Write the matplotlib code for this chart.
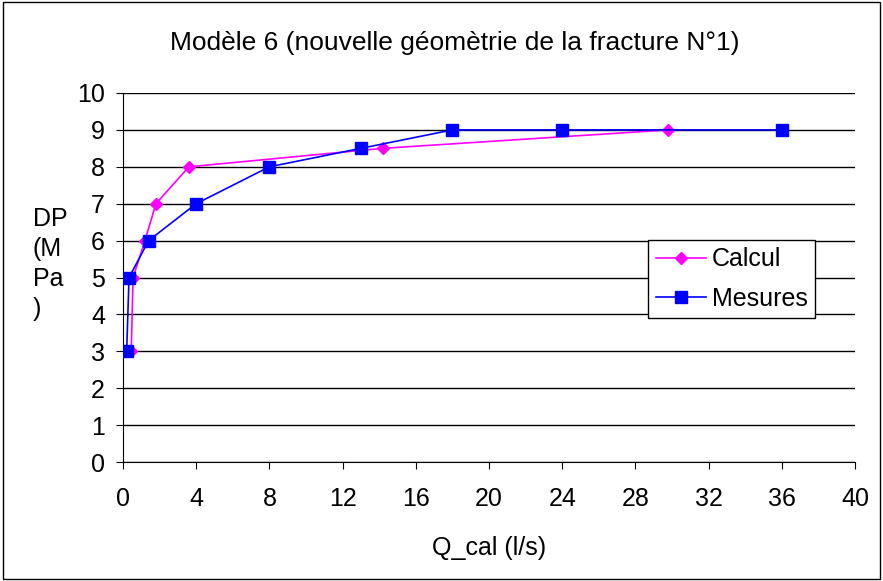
import matplotlib.pyplot as plt
from matplotlib.patches import Rectangle

plt.rcParams['font.family'] = ['Liberation Sans', 'DejaVu Sans']

# Calcul (modèle 6)
q_calcul = [0.45, 0.55, 1.2, 1.8, 3.6, 14.2, 29.8]
dp_calcul = [3, 5, 6, 7, 8, 8.5, 9]

# Mesures
q_mesures = [0.2, 0.33, 1.4, 4.0, 8.0, 13.0, 18.0, 24.0, 36.0]
dp_mesures = [3, 5, 6, 7, 8, 8.5, 9, 9, 9]

x_ticks = [0, 4, 8, 12, 16, 20, 24, 28, 32, 36, 40]

fig = plt.figure(figsize=(8.83, 5.81), dpi=100)
ax = fig.add_axes([123 / 883, 1 - 462 / 581, 732 / 883, 369 / 581])

ax.plot(q_calcul, dp_calcul, color='#ff00ff', marker='D', markersize=6.5,
        linewidth=1.2, label='Calcul', zorder=3)
ax.plot(q_mesures, dp_mesures, color='#0000ff', marker='s', markersize=9,
        linewidth=1.2, label='Mesures', zorder=4)

ax.set_xlim(0, 40)
ax.set_ylim(0, 10)
ax.set_xticks(x_ticks)
ax.set_yticks(range(0, 11))
ax.yaxis.grid(True, color='black', linewidth=1)
ax.set_axisbelow(True)
ax.spines['top'].set_visible(False)
ax.spines['right'].set_visible(False)
ax.tick_params(labelsize=18, direction='out', length=5, colors='black')
ax.tick_params(axis='x', pad=13)
ax.tick_params(axis='y', pad=8)

fig.text(455 / 883, 1 - 43 / 581, 'Modèle 6 (nouvelle géomètrie de la fracture N°1)',
         fontsize=19, ha='center', va='center')
ax.set_xlabel('Q_cal (l/s)', fontsize=18, labelpad=18)
fig.text(33 / 883, 1 - 264 / 581, 'DP\n(M\nPa\n)', fontsize=18, ha='left', va='center',
         linespacing=1.3)

leg = ax.legend(loc='upper left', bbox_to_anchor=(525 / 732, 1 - 147 / 369),
                fontsize=18, frameon=True, fancybox=False, edgecolor='black',
                framealpha=1, borderpad=0.3, handlelength=2.0, handletextpad=0.25,
                labelspacing=0.6, borderaxespad=0)
leg.get_frame().set_linewidth(1)

# cadre du graphique
fig.patches.append(Rectangle((0.003, 0.003), 0.994, 0.994, transform=fig.transFigure,
                             fill=False, edgecolor='black', linewidth=1))

fig.savefig('out.png', dpi=100)
